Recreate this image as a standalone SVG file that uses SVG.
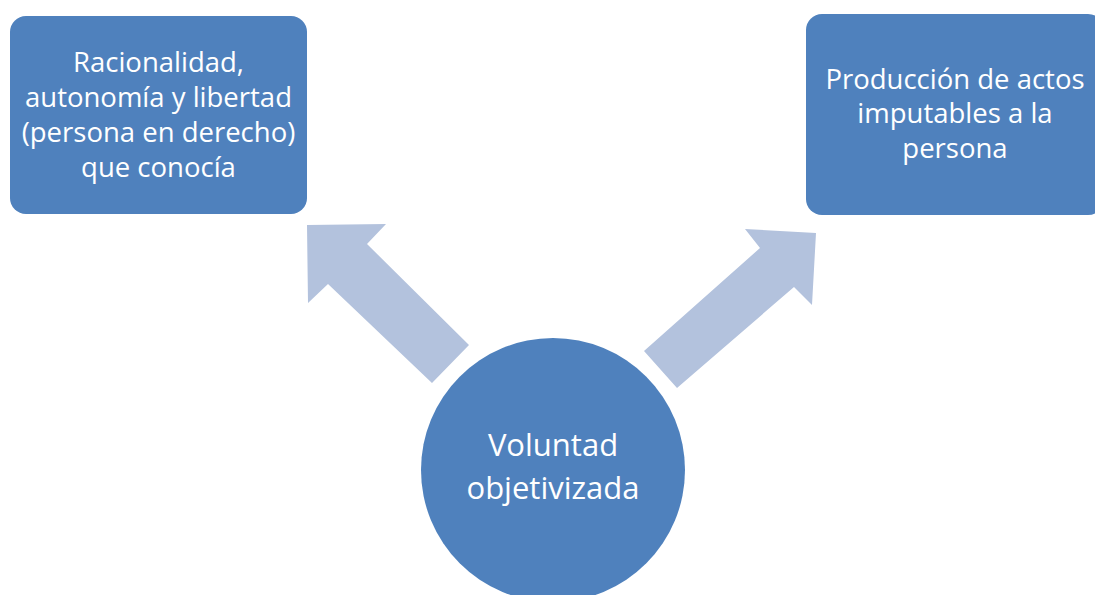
<svg xmlns="http://www.w3.org/2000/svg" width="1095" height="595" viewBox="0 0 1095 595">
<style>
.box{fill:#4F81BD;}
.arrow{fill:#B3C2DD;}
.t{fill:#FFFFFF;font-family:"Open Sans","Noto Sans",sans-serif;text-anchor:middle;}
.tb{font-size:27.5px;}
.tc{font-size:31px;}
</style>
<rect width="1095" height="595" fill="#FFFFFF"/>
<g id="connectors">
<polygon class="arrow" points="307,225 386,224 367,244 469,345 432,383 328,284 308,303"/>
<polygon class="arrow" points="745,229 816,233 812,305 794,287 677,388 644,351 760,248"/>
</g>
<g id="node-left">
<rect class="box" x="10" y="16" width="297" height="198" rx="16" ry="16"/>
<text class="t tb"><tspan x="158.5" y="72">Racionalidad,</tspan><tspan x="158.5" y="107">autonomía y libertad</tspan><tspan x="158.5" y="142">(persona en derecho)</tspan><tspan x="158.5" y="177">que conocía</tspan></text>
</g>
<g id="node-right">
<rect class="box" x="806" y="14" width="298" height="201" rx="16" ry="16"/>
<text class="t tb"><tspan x="955" y="89">Producción de actos</tspan><tspan x="955" y="123">imputables a la</tspan><tspan x="955" y="158">persona</tspan></text>
</g>
<g id="node-center">
<circle class="box" cx="553" cy="470" r="132"/>
<text class="t tc"><tspan x="553" y="456">Voluntad</tspan><tspan x="553" y="499">objetivizada</tspan></text>
</g>
</svg>
